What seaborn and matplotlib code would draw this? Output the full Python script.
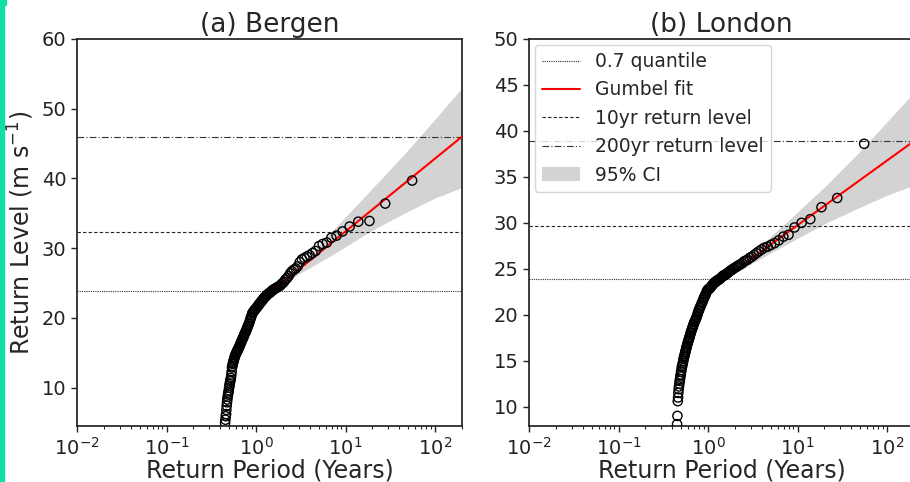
import matplotlib
matplotlib.use("Agg")
import matplotlib.pyplot as plt
import seaborn as sns
import pandas as pd
from matplotlib.patches import Rectangle

# ---------------- data ----------------
return_period = [55.5, 27.75, 18.5, 13.88, 11.1, 9.25, 7.93, 6.94, 6.17, 5.55,
                 5.05, 4.63, 4.27, 3.96, 3.70, 3.47, 3.26, 3.08, 2.92, 2.78,
                 2.64, 2.52, 2.41, 2.31, 2.22, 2.13, 2.06, 1.98, 1.91, 1.85,
                 1.79, 1.73, 1.68, 1.63, 1.59, 1.54, 1.50, 1.46, 1.42, 1.39,
                 1.35, 1.32, 1.29, 1.26, 1.23, 1.21, 1.18, 1.16, 1.13, 1.11,
                 1.09, 1.07, 1.05, 1.03, 1.01, 0.991, 0.974, 0.957, 0.941, 0.925,
                 0.910, 0.895, 0.881, 0.867, 0.854, 0.841, 0.828, 0.816, 0.804, 0.793,
                 0.782, 0.771, 0.760, 0.750, 0.740, 0.730, 0.721, 0.712, 0.703, 0.694,
                 0.685, 0.677, 0.669, 0.661, 0.653, 0.645, 0.638, 0.631, 0.624, 0.617,
                 0.610, 0.603, 0.597, 0.590, 0.584, 0.578, 0.572, 0.566, 0.561, 0.555,
                 0.550, 0.544, 0.539, 0.534, 0.529, 0.524, 0.519, 0.514, 0.509, 0.505,
                 0.500, 0.496, 0.491, 0.487, 0.483, 0.478, 0.474, 0.470, 0.466, 0.463,
                 0.459, 0.455, 0.451]

bergen_level = [39.7, 36.4, 33.9, 33.8, 33.1, 32.4, 31.8, 31.5, 30.8, 30.6,
                30.3, 29.6, 29.3, 29.0, 28.8, 28.6, 28.4, 28.0, 27.4, 27.1,
                26.9, 26.7, 26.4, 26.0, 25.7, 25.5, 25.2, 25.0, 24.8, 24.6,
                24.5, 24.4, 24.3, 24.2, 24.1, 24.0, 23.9, 23.7, 23.6, 23.5,
                23.4, 23.3, 23.1, 23.0, 22.9, 22.7, 22.6, 22.4, 22.3, 22.1,
                22.0, 21.9, 21.7, 21.6, 21.4, 21.3, 21.2, 21.1, 20.9, 20.8,
                20.7, 20.4, 20.1, 19.9, 19.6, 19.3, 19.1, 18.9, 18.7, 18.5,
                18.3, 18.1, 17.9, 17.8, 17.6, 17.4, 17.2, 17.1, 16.9, 16.8,
                16.6, 16.4, 16.3, 16.1, 15.9, 15.8, 15.6, 15.5, 15.4, 15.3,
                15.1, 15.0, 14.9, 14.7, 14.6, 14.4, 14.2, 14.0, 13.8, 13.6,
                13.4, 13.1, 12.9, 12.3, 11.8, 11.4, 11.1, 10.9, 10.6, 10.3,
                10.0, 9.6, 9.3, 9.0, 8.7, 8.3, 7.9, 7.4, 6.8, 6.2,
                5.9, 5.4, 4.9]

london_level = [38.6, 32.7, 31.7, 30.4, 30.0, 29.5, 28.7, 28.5, 28.1, 27.8,
                27.6, 27.4, 27.3, 27.1, 26.9, 26.7, 26.5, 26.3, 26.2, 26.0,
                25.9, 25.8, 25.6, 25.5, 25.4, 25.3, 25.2, 25.1, 25.0, 24.9,
                24.8, 24.7, 24.6, 24.5, 24.4, 24.3, 24.3, 24.2, 24.1, 24.0,
                23.9, 23.8, 23.8, 23.7, 23.6, 23.6, 23.5, 23.4, 23.3, 23.2,
                23.1, 23.0, 22.9, 22.8, 22.8, 22.7, 22.6, 22.4, 22.2, 22.1,
                21.9, 21.8, 21.6, 21.4, 21.3, 21.1, 21.0, 20.8, 20.7, 20.5,
                20.4, 20.2, 20.0, 19.8, 19.7, 19.5, 19.4, 19.3, 19.2, 19.0,
                18.9, 18.7, 18.6, 18.4, 18.3, 18.1, 18.0, 17.8, 17.6, 17.5,
                17.3, 17.2, 17.0, 16.9, 16.7, 16.5, 16.4, 16.2, 16.0, 15.9,
                15.7, 15.5, 15.4, 15.2, 15.0, 14.8, 14.6, 14.4, 14.3, 14.0,
                13.8, 13.5, 13.3, 13.0, 12.8, 12.5, 12.2, 11.9, 11.5, 11.0,
                10.6, 9.0, 8.1]

# Gumbel fit lines (end points) and 95% CI band
bergen_fit_T = [1.5, 200]
bergen_fit_level = [23.8, 46.0]
london_fit_T = [1.43, 200]
london_fit_level = [23.8, 38.9]

ci_T = [1.5, 3, 7, 20, 50, 100, 200]
bergen_ci_upper = [23.9, 27.3, 32.4, 38.6, 44.1, 48.5, 53.0]
bergen_ci_lower = [23.7, 26.3, 29.0, 32.6, 35.3, 37.2, 38.7]
london_ci_T = [1.43, 3, 7, 20, 50, 100, 200]
london_ci_upper = [23.9, 26.6, 29.8, 33.9, 37.8, 41.0, 44.2]
london_ci_lower = [23.7, 25.5, 27.5, 29.9, 31.7, 33.0, 34.1]

# horizontal reference levels: 0.7 quantile, 10yr, 200yr
bergen_levels = [23.8, 32.3, 46.0]
london_levels = [23.9, 29.7, 38.9]

titles = ["(a) Bergen", "(b) London"]
ylims = [(4.5, 60), (7.9, 50)]
yticks = [[10, 20, 30, 40, 50, 60], [10, 15, 20, 25, 30, 35, 40, 45, 50]]

# ---------------- plot ----------------
sns.set_theme(style="ticks")
plt.rcParams["font.family"] = ["DejaVu Sans"]
plt.rcParams["axes.edgecolor"] = "#222222"

fig = plt.figure(figsize=(9.1, 4.82), dpi=100)
ax1 = fig.add_axes([77 / 910, 56 / 482, 385 / 910, 387 / 482])
ax2 = fig.add_axes([529 / 910, 56 / 482, 385 / 910, 387 / 482])

panels = [
    (ax1, bergen_level, bergen_fit_T, bergen_fit_level, ci_T, bergen_ci_upper, bergen_ci_lower, bergen_levels),
    (ax2, london_level, london_fit_T, london_fit_level, london_ci_T, london_ci_upper, london_ci_lower, london_levels),
]

for k, (ax, lev, fT, fL, cT, cU, cL, hl) in enumerate(panels):
    ax.set_xscale("log")
    ci = ax.fill_between(cT, cL, cU, color="#d3d3d3", linewidth=0, zorder=1, label="95% CI")
    h1 = ax.axhline(hl[0], color="#333333", linestyle=(0, (1, 1)), linewidth=0.8, zorder=2, label="0.7 quantile")
    h2 = ax.axhline(hl[1], color="#222222", linestyle=(0, (3, 2)), linewidth=0.8, zorder=2, label="10yr return level")
    h3 = ax.axhline(hl[2], color="#333333", linestyle=(0, (6, 2, 1, 2)), linewidth=0.8, zorder=2, label="200yr return level")
    fit_df = pd.DataFrame({"T": fT, "level": fL})
    sns.lineplot(data=fit_df, x="T", y="level", ax=ax, color="red", linewidth=1.5, zorder=3, label="Gumbel fit", legend=False)
    pts = pd.DataFrame({"T": return_period, "level": lev})
    sns.scatterplot(data=pts, x="T", y="level", ax=ax, marker="o", s=44, facecolors="none",
                    edgecolor="black", linewidth=1.0, zorder=4, legend=False)
    ax.set_xlim(0.01, 200)
    ax.set_ylim(*ylims[k])
    ax.set_yticks(yticks[k])
    ax.set_xticks([0.01, 0.1, 1, 10, 100])
    ax.tick_params(axis="both", which="major", labelsize=14, length=4, width=1, colors="#222222")
    ax.tick_params(axis="x", which="minor", length=2.5, width=0.8)
    ax.set_title(titles[k], fontsize=19, pad=5)
    ax.set_xlabel("Return Period (Years)", fontsize=17, labelpad=0)
    if k == 0:
        ax.set_ylabel("Return Level (m s$^{-1}$)", fontsize=17)
    else:
        ax.set_ylabel("")
        fit_line = ax.lines[-1]
        ax.legend([h1, fit_line, h2, h3, ci],
                  ["0.7 quantile", "Gumbel fit", "10yr return level", "200yr return level", "95% CI"],
                  loc="upper left", fontsize=13.5, frameon=True, framealpha=0.8,
                  borderaxespad=0.3, handlelength=2.0, handletextpad=0.8, labelspacing=0.5)

# teal edge bar seen on the left of the reference
fig.patches.append(Rectangle((0, 0), 4 / 910, 1, transform=fig.transFigure, color="#0fdfa4", zorder=10))
fig.patches.append(Rectangle((0, 1 - 5 / 482), 6 / 910, 5 / 482, transform=fig.transFigure, color="#0fdfa4", zorder=10))

fig.savefig("out.png", dpi=100)
